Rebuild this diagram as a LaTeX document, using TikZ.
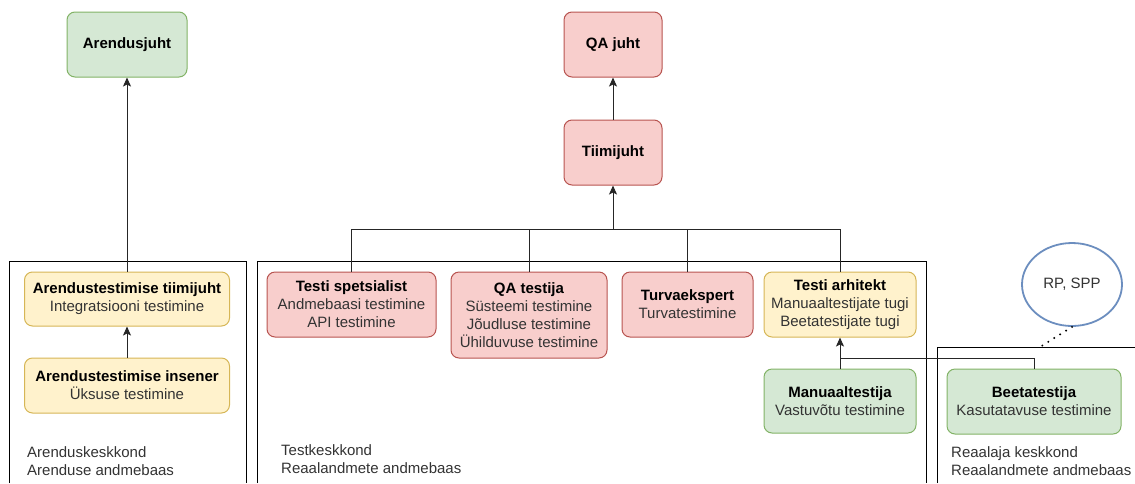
\documentclass[tikz,border=0pt]{standalone}
\usepackage{fontspec}
\setmainfont{Liberation Sans}
\usetikzlibrary{arrows.meta,shapes.geometric}
\newlength{\du}
\setlength{\du}{1pt}
\definecolor{redfill}{HTML}{F8CECC}
\definecolor{redline}{HTML}{B85450}
\definecolor{greenfill}{HTML}{D5E8D4}
\definecolor{greenline}{HTML}{82B366}
\definecolor{yellowfill}{HTML}{FFF2CC}
\definecolor{yellowline}{HTML}{D6B656}
\definecolor{blueline}{HTML}{6C8EBF}
\definecolor{subtext}{HTML}{333333}
\tikzset{
  box/.style={rounded corners=8\du, line width=1\du, align=center, inner sep=0pt,
    font=\fontsize{15}{18}\selectfont, text=subtext},
  redbox/.style={box, draw=redline, fill=redfill},
  greenbox/.style={box, draw=greenline, fill=greenfill},
  yellowbox/.style={box, draw=yellowline, fill=yellowfill},
  envtext/.style={anchor=west, align=left, inner sep=0pt,
    font=\fontsize{15}{18}\selectfont, text=subtext},
  wire/.style={line width=1\du, draw=black!85},
  link/.style={wire, -{Stealth[length=9pt,width=8pt,inset=2pt]}},
}
\newcommand{\ttl}[1]{\textbf{\color{black}#1}}

\begin{document}
\begin{tikzpicture}
\pgftransformyscale{-1.000000}
\useasboundingbox (0\du,0\du) rectangle (1135\du,483\du);
% environments
\draw[line width=1\du] (9\du,483\du)--(9\du,261\du)--(246\du,261\du)--(246\du,483\du);
\draw[line width=1\du] (257\du,483\du)--(257\du,261\du)--(926\du,261\du)--(926\du,483\du);
\draw[line width=1\du] (937\du,483\du)--(937\du,347\du)--(1135\du,347\du);
\node[envtext] (devenv) at (27\du,461\du){Arenduskeskkond\\Arenduse andmebaas};
\node[envtext] (testenv) at (281\du,459\du){Testkeskkond\\Reaalandmete andmebaas};
\node[envtext] (liveenv) at (951\du,461\du){Reaalaja keskkond\\Reaalandmete andmebaas};
% leads
\node[greenbox, minimum width=120\du, minimum height=65\du] (devlead) at (127\du,44.5\du){\ttl{Arendusjuht}};
\node[redbox, minimum width=98\du, minimum height=65\du] (qalead) at (613\du,44.5\du){\ttl{QA juht}};
\node[redbox, minimum width=98\du, minimum height=65\du] (teamlead) at (613\du,152.5\du){\ttl{Tiimijuht}};
% development
\node[yellowbox, minimum width=205\du, minimum height=54\du] (devtestlead) at (127\du,299\du){\ttl{Arendustestimise tiimijuht}\\Integratsiooni testimine};
\node[yellowbox, minimum width=205\du, minimum height=55\du] (devtester) at (127\du,385.5\du){\ttl{Arendustestimise insener}\\Üksuse testimine};
% test
\node[redbox, minimum width=169\du, minimum height=65\du] (specialist) at (351.5\du,304.5\du){\ttl{Testi spetsialist}\\Andmebaasi testimine\\API testimine};
\node[redbox, minimum width=156\du, minimum height=86\du] (qatester) at (529\du,315\du){\ttl{QA testija}\\Süsteemi testimine\\Jõudluse testimine\\Ühilduvuse testimine};
\node[redbox, minimum width=131\du, minimum height=65\du] (security) at (687.5\du,304.5\du){\ttl{Turvaekspert}\\Turvatestimine};
\node[yellowbox, minimum width=152\du, minimum height=65\du] (architect) at (840\du,304.5\du){\ttl{Testi arhitekt}\\Manuaaltestijate tugi\\Beetatestijate tugi};
\node[greenbox, minimum width=152\du, minimum height=64\du] (manual) at (840\du,401\du){\ttl{Manuaaltestija}\\Vastuvõtu testimine};
% live
\node[greenbox, minimum width=174\du, minimum height=65\du] (beta) at (1034\du,401.5\du){\ttl{Beetatestija}\\Kasutatavuse testimine};
\node[ellipse, draw=blueline, line width=1.8\du, fill=white, minimum width=100\du, minimum height=83\du,
  font=\fontsize{15}{18}\selectfont, text=subtext] (rpspp) at (1072\du,284.5\du){RP, SPP};
\coordinate (livetop) at (1040\du,347\du);
% connectors
\coordinate (bus) at (613\du,229\du);
\coordinate (merge) at (840\du,358\du);
\draw[link] (devtester) -- (devtestlead);
\draw[link] (devtestlead) -- (devlead);
\draw[link] (teamlead) -- (qalead);
\draw[link] (bus) -- (teamlead);
\draw[wire] (specialist.north) |- (bus);
\draw[wire] (qatester.north) |- (bus);
\draw[wire] (security.north) |- (bus);
\draw[wire] (architect.north) |- (bus);
\draw[link] (manual) -- (architect);
\draw[wire] (beta.north) |- (merge);
\draw[line width=2.2\du, line cap=round, dash pattern=on 0pt off 7\du] (rpspp.south) -- (livetop);
\end{tikzpicture}
\end{document}
